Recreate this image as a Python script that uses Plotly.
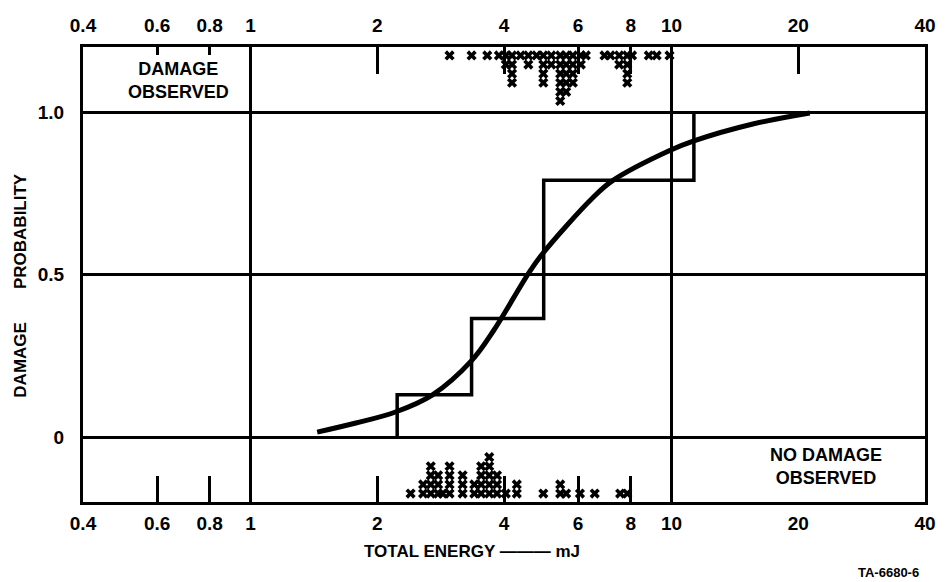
import math
import plotly.graph_objects as go

# ---------------- data ----------------
X_TICK_VALS = [0.4, 0.6, 0.8, 1, 2, 4, 6, 8, 10, 20, 40]
X_TICK_TEXT = ["0.4", "0.6", "0.8", "1", "2", "4", "6", "8", "10", "20", "40"]
Y_TICK_VALS = [0, 0.5, 1.0]
Y_TICK_TEXT = ["0", "0.5", "1.0"]

BOTTOM_LONG_TICKS = [0.6, 0.8, 2, 4, 6, 8]
TOP_LONG_TICKS = [2, 4, 6, 8, 20]
TOP_SHORT_TICKS = [0.6, 0.8]
GRID_X = [1, 10]

# shots where damage was observed: energy (mJ) and number of stacked marks
damage_energy = [2.97, 3.35, 3.65, 3.89, 4.04, 4.18, 4.38, 4.57, 4.78, 4.96, 5.18, 5.44,
                 5.62, 5.83, 6.09, 6.26, 6.93, 7.16, 7.51, 7.85, 8.06, 8.83, 9.22, 9.89]
damage_count = [1, 1, 1, 1, 2, 4, 1, 2, 1, 4, 2, 6,
                 5, 4, 2, 1, 1, 1, 2, 4, 1, 1, 1, 1]

# shots with no damage observed
nodamage_energy = [2.40, 2.57, 2.68, 2.79, 2.86, 2.97, 3.19, 3.40, 3.53, 3.69, 3.85, 4.04,
                   4.29, 4.96, 5.44, 5.62, 6.06, 6.57, 7.55, 7.85]
nodamage_count = [1, 2, 4, 3, 1, 4, 3, 2, 4, 5, 3, 1,
                  2, 1, 2, 1, 1, 1, 1, 1]

# histogram-type (step) damage probability
step_energy = [2.23, 3.35, 4.97, 11.3, 11.3]
step_prob = [0.0, 0.13, 0.365, 0.79, 1.0]

# fitted smooth curve
curve_energy = [1.44, 1.78, 2.21, 2.70, 3.35, 3.79, 4.57, 4.96, 6.50, 7.23, 9.84, 11.3, 15.6, 21.3]
curve_prob = [0.015, 0.043, 0.077, 0.129, 0.235, 0.33, 0.503, 0.567, 0.736, 0.788, 0.880, 0.911, 0.963, 0.997]

# ---------------- style ----------------
FONT = "Liberation Sans"
Y_MIN, Y_MAX = -0.2, 1.2
STACK_STEP = 0.028
XR = [math.log10(0.4), math.log10(40)]

def stack(energies, counts, base, direction):
    xs, ys = [], []
    for e, n in zip(energies, counts):
        for k in range(1, n + 1):
            xs.append(e)
            ys.append(base + direction * STACK_STEP * k)
    return xs, ys

dx, dy = stack(damage_energy, damage_count, Y_MAX + 0.002, -1)
nx, ny = stack(nodamage_energy, nodamage_count, Y_MIN - 0.002, 1)

fig = go.Figure()
mk = dict(symbol="x", size=9, color="black", line=dict(width=0))
fig.add_trace(go.Scatter(x=dx, y=dy, mode="markers", marker=mk, showlegend=False, cliponaxis=False))
fig.add_trace(go.Scatter(x=nx, y=ny, mode="markers", marker=mk, showlegend=False, cliponaxis=False))
fig.add_trace(go.Scatter(x=step_energy, y=step_prob, mode="lines",
                         line=dict(shape="vh", width=3.5, color="black"), showlegend=False))
fig.add_trace(go.Scatter(x=curve_energy, y=curve_prob, mode="lines",
                         line=dict(shape="spline", smoothing=1.0, width=5, color="black"), showlegend=False))
# empty traces binding the auxiliary axes
for ax in ["x2", "x3", "x4"]:
    fig.add_trace(go.Scatter(x=[None], y=[None], xaxis=ax, yaxis="y", showlegend=False, hoverinfo="skip"))

tickfont = dict(family=FONT, size=19, color="black", weight="bold")

fig.update_layout(
    width=948, height=582,
    margin=dict(l=83, r=13, t=47, b=80),
    paper_bgcolor="white", plot_bgcolor="white",
    font=dict(family=FONT, color="black"),
    xaxis=dict(type="log", range=XR, tickmode="array", tickvals=X_TICK_VALS, ticktext=X_TICK_TEXT,
               ticks="", showgrid=False, zeroline=False, tickfont=tickfont, ticklabelstandoff=2,
               showline=True, mirror=True, linewidth=3, linecolor="black",
               minor=dict(tickmode="array", tickvals=BOTTOM_LONG_TICKS, ticks="inside",
                          ticklen=26, tickwidth=2.5, tickcolor="black", showgrid=False)),
    xaxis2=dict(type="log", range=XR, overlaying="x", side="top", anchor="y",
                tickmode="array", tickvals=X_TICK_VALS, ticktext=X_TICK_TEXT,
                ticks="", showgrid=False, zeroline=False, tickfont=tickfont, ticklabelstandoff=10,
                showline=False,
                minor=dict(tickmode="array", tickvals=TOP_LONG_TICKS, ticks="inside",
                           ticklen=27, tickwidth=2.5, tickcolor="black", showgrid=False)),
    xaxis3=dict(type="log", range=XR, overlaying="x", side="top", anchor="y",
                tickmode="array", tickvals=TOP_SHORT_TICKS, ticks="inside", ticklen=8,
                tickwidth=2.5, tickcolor="black", showticklabels=False, showgrid=False,
                zeroline=False, showline=False),
    xaxis4=dict(type="log", range=XR, overlaying="x", side="bottom", anchor="y",
                tickmode="array", tickvals=GRID_X, ticks="", showticklabels=False,
                showgrid=True, gridcolor="black", gridwidth=2.5, zeroline=False, showline=False),
    yaxis=dict(range=[Y_MIN, Y_MAX], tickmode="array", tickvals=Y_TICK_VALS, ticktext=Y_TICK_TEXT,
               ticks="", showgrid=True, gridcolor="black", gridwidth=2.5, zeroline=False,
               tickfont=tickfont, ticklabelstandoff=12,
               showline=True, mirror=True, linewidth=3, linecolor="black"),
)

labfont = dict(family=FONT, size=18, color="black", weight="bold")
common = dict(xref="paper", yref="paper", showarrow=False, xanchor="center", yanchor="middle")
fig.add_annotation(text="DAMAGE<br>OBSERVED", x=0.114, y=0.927, font=labfont, align="center", **common)
fig.add_annotation(text="NO DAMAGE<br>OBSERVED", x=0.883, y=0.079, font=labfont, align="center", **common)
fig.add_annotation(text="TOTAL ENERGY ——— mJ", x=0.462, y=-0.108,
                   font=dict(family=FONT, size=17, color="black", weight="bold"), **common)
fig.add_annotation(text="DAMAGE&nbsp;&nbsp;&nbsp;&nbsp;&nbsp;&nbsp;&nbsp;PROBABILITY",
                   x=-0.074, y=0.477, textangle=-90,
                   font=dict(family=FONT, size=17, color="black", weight="bold"), **common)
fig.add_annotation(text="TA-6680-6", x=0.957, y=-0.154,
                   font=dict(family=FONT, size=13, color="black", weight="bold"), **common)

fig.write_html("out.html")
